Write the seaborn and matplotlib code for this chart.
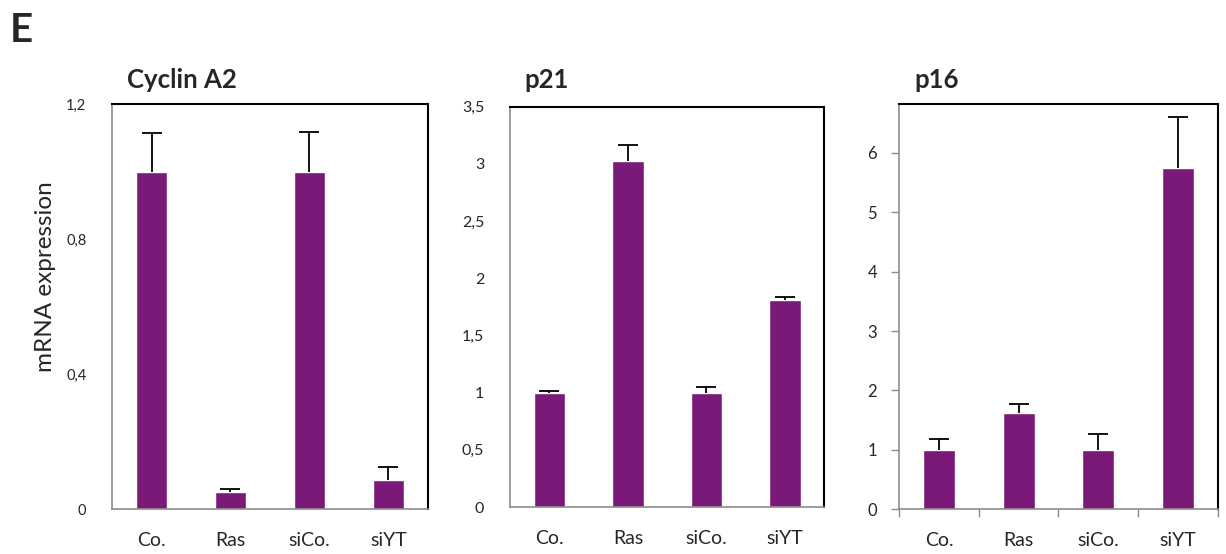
import pandas as pd
import numpy as np
import matplotlib
matplotlib.use('Agg')
import matplotlib.pyplot as plt
import seaborn as sns
from matplotlib.ticker import FuncFormatter

# data
groups = ['Co.', 'Ras', 'siCo.', 'siYT']
cyclin_mean = [1.0, 0.051, 1.0, 0.088]
cyclin_err = [0.114, 0.010, 0.117, 0.036]
p21_mean = [1.0, 3.027, 1.0, 1.81]
p21_err = [0.018, 0.137, 0.053, 0.03]
p16_mean = [1.0, 1.616, 1.0, 5.745]
p16_err = [0.18, 0.154, 0.27, 0.855]

cyclin_ticks = [0, 0.4, 0.8, 1.2]
p21_ticks = [0, 0.5, 1, 1.5, 2, 2.5, 3, 3.5]
p16_ticks = [0, 1, 2, 3, 4, 5, 6]

sns.set_style('white')
plt.rcParams['font.family'] = ['Lato', 'DejaVu Sans']

purple = '#7a1977'
fig = plt.figure(figsize=(12.26, 5.54), dpi=100)

panels = [
    ('Cyclin A2', cyclin_mean, cyclin_err, cyclin_ticks, 1.2, [0.0914, 0.0807, 0.2575, 0.7316], 10.5),
    ('p21', p21_mean, p21_err, p21_ticks, 3.5, [0.416, 0.0848, 0.2564, 0.7226], 11.5),
    ('p16', p16_mean, p16_err, p16_ticks, 6.82, [0.7335, 0.0807, 0.2597, 0.7316], 12),
]

comma = FuncFormatter(lambda v, pos: f'{v:g}'.replace('.', ','))

for i, (title, mean, err, ticks, ymax, rect, ysize) in enumerate(panels):
    ax = fig.add_axes(rect)
    df = pd.DataFrame({'group': groups, 'value': mean})
    sns.barplot(data=df, x='group', y='value', order=groups, color=purple,
                saturation=1, width=0.4, errorbar=None, ax=ax)
    # upper error bars only
    _, caps, _ = ax.errorbar(np.arange(len(groups)), mean, yerr=[np.zeros(len(err)), err],
                             fmt='none', ecolor='black', elinewidth=1.3, capsize=7, capthick=1.3)
    caps[0].set_visible(False)
    ax.set_xlim(-0.5, 3.5)
    ax.set_ylim(0, ymax)
    ax.set_yticks(ticks)
    ax.yaxis.set_major_formatter(comma)
    ax.set_xlabel('')
    ax.set_ylabel('')
    for s in ['left', 'bottom']:
        ax.spines[s].set_color('#8c8c8c')
        ax.spines[s].set_linewidth(1.2)
    for s in ['top', 'right']:
        ax.spines[s].set_color('black')
        ax.spines[s].set_linewidth(1.5)
    if i == 2:
        ax.tick_params(axis='y', left=True, length=6, width=1, color='#8c8c8c', pad=10, labelsize=ysize)
        ax.set_xticks([-0.5, 0.5, 1.5, 2.5, 3.5], minor=True)
        ax.tick_params(axis='x', which='minor', bottom=True, length=6, width=1, color='#8c8c8c')
        ax.tick_params(axis='x', which='major', bottom=False, pad=13, labelsize=14)
    else:
        ax.tick_params(axis='y', left=False, pad=15, labelsize=ysize)
        ax.tick_params(axis='x', bottom=False, pad=13, labelsize=14)
    fig.text(rect[0] + 0.012, 0.855, title, fontsize=18.5, fontweight='bold', va='center', ha='left')

fig.text(0.037, 0.5, 'mRNA expression', rotation=90, fontsize=17.5, va='center', ha='center')
fig.text(0.008, 0.945, 'E', fontsize=29, fontweight='bold', va='center', ha='left')

fig.savefig('out.png', dpi=100)
